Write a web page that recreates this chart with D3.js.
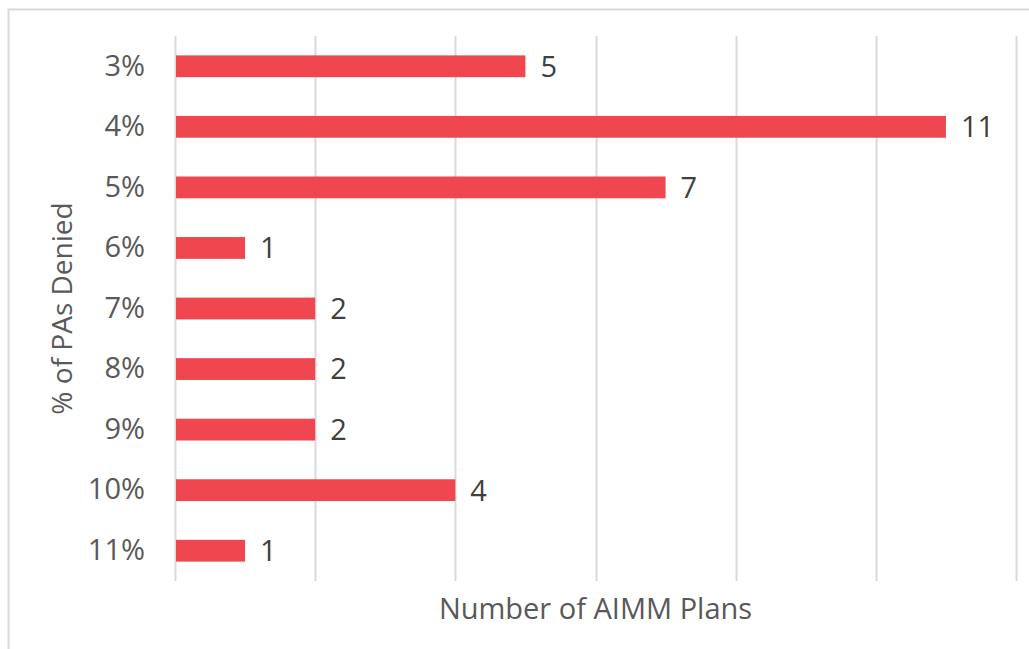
<html>
<head>
<meta charset="UTF-8">
<script src="https://d3js.org/d3.v7.min.js"></script>
<style>
  body { margin: 0; background: #fff; }
  text { font-family: "Open Sans", "Noto Sans", sans-serif; }
</style>
</head>
<body>
<svg id="chart" width="1029" height="649"></svg>
<script>
// data
const categories = ['3%', '4%', '5%', '6%', '7%', '8%', '9%', '10%', '11%'];
const plans = [5, 11, 7, 1, 2, 2, 2, 4, 1];
const xTicks = [0, 2, 4, 6, 8, 10, 12];

const svg = d3.select('#chart');
const margin = {top: 36, left: 175, right: 13, bottom: 68};
const width = 1029, height = 649;
const chartWidth = width - margin.left - margin.right;
const chartHeight = height - margin.top - margin.bottom;

// chart border (runs past the right and bottom of the picture)
svg.append('rect')
   .attr('x', 8.5).attr('y', 9.5)
   .attr('width', 1040).attr('height', 660)
   .attr('fill', 'none').attr('stroke', '#d9d9d9').attr('stroke-width', 2);

const xScale = d3.scaleLinear().domain([0, 12]).range([0, chartWidth]);
const yScale = d3.scaleBand().domain(categories).range([0, chartHeight]).paddingInner(0.64).paddingOuter(0.32);

const g = svg.append('g').attr('transform', `translate(${margin.left},${margin.top})`);

// vertical gridlines
g.selectAll('line.grid').data(xTicks)
 .join('line')
 .attr('class', 'grid')
 .attr('x1', d => Math.round(xScale(d)) + 0.5)
 .attr('x2', d => Math.round(xScale(d)) + 0.5)
 .attr('y1', 0).attr('y2', chartHeight)
 .attr('stroke', '#d9d9d9').attr('stroke-width', 2);

// bars
const data = categories.map((c, i) => ({cat: c, v: plans[i]}));
g.selectAll('rect.bar').data(data)
 .join('rect')
 .attr('class', 'bar')
 .attr('x', 1)
 .attr('y', d => yScale(d.cat))
 .attr('width', d => xScale(d.v) - 1)
 .attr('height', yScale.bandwidth())
 .attr('fill', '#ef4650');

// value labels
g.selectAll('text.val').data(data)
 .join('text')
 .attr('class', 'val')
 .attr('x', d => xScale(d.v) + 15)
 .attr('y', d => yScale(d.cat) + yScale.bandwidth() / 2)
 .attr('dy', '0.36em')
 .attr('fill', '#404040')
 .style('font-size', '29px')
 .text(d => d.v);

// category axis labels
const leftAxis = d3.axisLeft(yScale).tickSize(0).tickPadding(30);
const ax = g.append('g').call(leftAxis);
ax.select('.domain').remove();
ax.selectAll('text')
  .attr('fill', '#595959')
  .style('font-size', '29px')
  .style('font-family', '"Open Sans", "Noto Sans", sans-serif');

// axis titles
svg.append('text')
   .attr('x', margin.left + chartWidth / 2)
   .attr('y', 619)
   .attr('text-anchor', 'middle')
   .attr('fill', '#595959')
   .style('font-size', '29px')
   .text('Number of AIMM Plans');

svg.append('text')
   .attr('transform', `translate(72, ${margin.top + chartHeight / 2}) rotate(-90)`)
   .attr('text-anchor', 'middle')
   .attr('fill', '#595959')
   .style('font-size', '28px')
   .text('% of PAs Denied');
</script>
</body>
</html>
